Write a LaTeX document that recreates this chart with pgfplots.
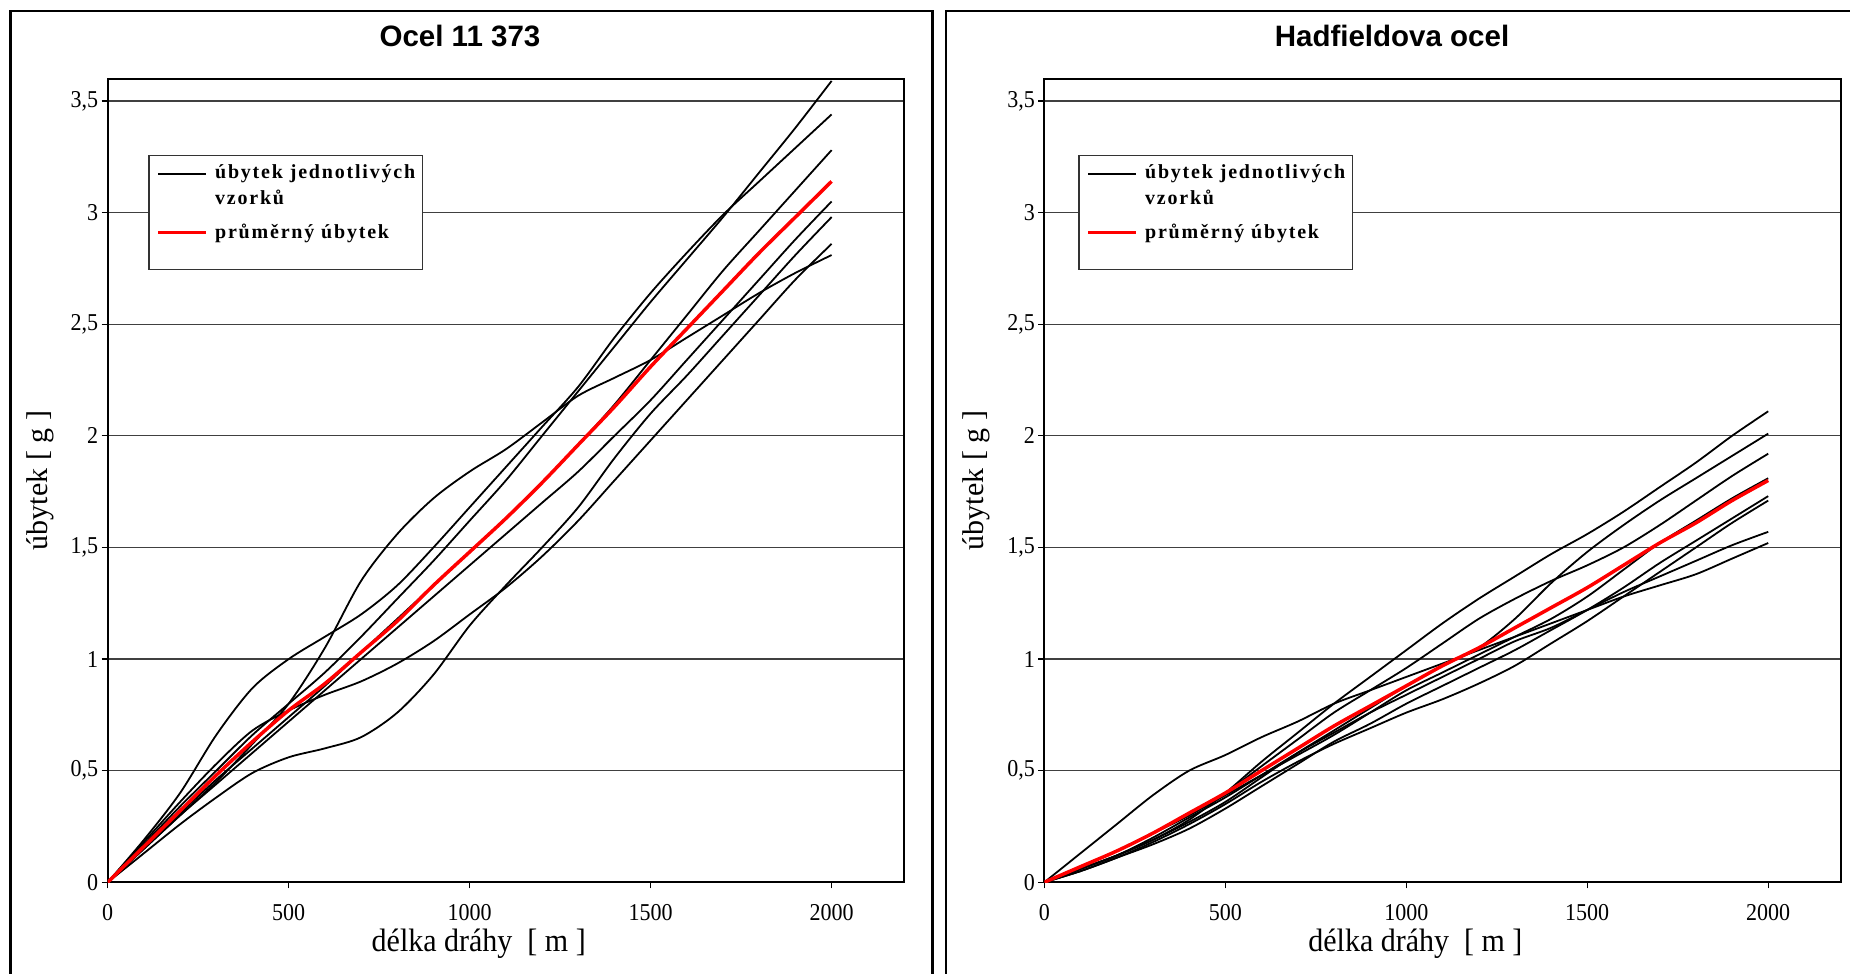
\documentclass[border=0pt]{standalone}
\usepackage{fontspec}
\setmainfont{Liberation Serif}
\newfontfamily\arialfont{Liberation Sans}
\newfontfamily\legfont{Liberation Serif}[LetterSpace=9]
\usepackage{pgfplots}
\usepackage{pgfplotstable}
\pgfplotsset{compat=1.18}

% left panel: Ocel 11 373, seven samples + average
\pgfplotstableread{
x    c1   c2   c3   c4   c5   c6   c7   avg
0    0    0    0    0    0    0    0    0
100  0.17 0.19 0.16 0.15 0.13 0.18 0.15 0.16
200  0.34 0.40 0.31 0.30 0.26 0.36 0.30 0.32
300  0.50 0.66 0.46 0.44 0.38 0.53 0.45 0.48
400  0.66 0.87 0.60 0.58 0.49 0.68 0.62 0.63
500  0.80 1.00 0.74 0.72 0.56 0.77 0.80 0.77
600  0.94 1.10 0.88 0.86 0.60 0.84 1.05 0.89
700  1.10 1.20 1.03 1.00 0.65 0.90 1.35 1.03
800  1.27 1.33 1.18 1.14 0.76 0.98 1.56 1.17
900  1.44 1.50 1.33 1.28 0.93 1.08 1.72 1.33
1000 1.62 1.68 1.48 1.42 1.15 1.20 1.84 1.48
1100 1.80 1.86 1.63 1.56 1.33 1.32 1.94 1.63
1200 2.00 2.04 1.79 1.70 1.50 1.46 2.06 1.79
1300 2.20 2.22 1.96 1.84 1.68 1.62 2.18 1.96
1400 2.40 2.44 2.14 2.00 1.90 1.80 2.26 2.13
1500 2.60 2.64 2.34 2.16 2.10 1.98 2.34 2.31
1600 2.79 2.82 2.54 2.34 2.27 2.16 2.44 2.48
1700 2.98 2.99 2.74 2.52 2.45 2.34 2.54 2.65
1800 3.18 3.14 2.92 2.70 2.63 2.52 2.64 2.82
1900 3.38 3.29 3.10 2.88 2.81 2.70 2.73 2.98
2000 3.59 3.44 3.28 3.05 2.98 2.86 2.81 3.14
}\leftdata

% right panel: Hadfieldova ocel, eight samples + average
\pgfplotstableread{
x    h1   h2   h3   h4   h5   h6   h7   h8   avg
0    0    0    0    0    0    0    0    0    0
100  0.06 0.06 0.07 0.07 0.05 0.05 0.06 0.13 0.07
200  0.12 0.12 0.14 0.14 0.11 0.11 0.12 0.26 0.14
300  0.19 0.19 0.22 0.22 0.17 0.18 0.20 0.39 0.22
400  0.28 0.27 0.30 0.30 0.24 0.26 0.29 0.50 0.31
500  0.40 0.36 0.40 0.39 0.33 0.35 0.38 0.57 0.40
600  0.54 0.47 0.52 0.48 0.43 0.45 0.48 0.65 0.50
700  0.67 0.58 0.64 0.57 0.53 0.54 0.58 0.72 0.60
800  0.80 0.68 0.76 0.66 0.63 0.62 0.67 0.80 0.70
900  0.92 0.78 0.86 0.76 0.71 0.69 0.76 0.86 0.79
1000 1.04 0.88 0.96 0.86 0.80 0.76 0.84 0.92 0.88
1100 1.16 0.97 1.07 0.94 0.88 0.82 0.92 0.98 0.97
1200 1.27 1.05 1.18 1.02 0.96 0.89 1.00 1.04 1.05
1300 1.37 1.18 1.27 1.10 1.04 0.97 1.08 1.10 1.14
1400 1.47 1.34 1.35 1.18 1.13 1.07 1.14 1.16 1.23
1500 1.56 1.48 1.42 1.28 1.22 1.17 1.22 1.22 1.32
1600 1.66 1.60 1.50 1.40 1.32 1.28 1.30 1.28 1.42
1700 1.77 1.71 1.60 1.52 1.43 1.39 1.37 1.33 1.52
1800 1.88 1.81 1.71 1.62 1.53 1.50 1.44 1.38 1.61
1900 2.00 1.91 1.82 1.72 1.63 1.61 1.51 1.45 1.71
2000 2.11 2.01 1.92 1.81 1.73 1.71 1.57 1.52 1.80
}\rightdata

\pgfplotsset{
  panel/.style={
    scale only axis, width=796.3pt, height=803.6pt,
    xmin=0, xmax=2200, ymin=0, ymax=3.6,
    xtick={0,500,1000,1500,2000},
    ytick={0,0.5,1,1.5,2,2.5,3,3.5},
    ymajorgrids, grid style={black!75, line width=1.2pt},
    axis line style={line width=2pt},
    tick style={black, line width=1.2pt},
    major tick length=6pt, tick align=outside, tick pos=left,
    scaled ticks=false,
    /pgf/number format/.cd, use comma, 1000 sep={}, assume math mode=true,
    /pgfplots/.cd,
    tick label style={font=\fontsize{22}{22}\selectfont},
    xticklabel={\scalebox{1}[1.1]{\pgfmathprintnumber{\tick}}},
    yticklabel={\scalebox{1}[1.1]{\pgfmathprintnumber{\tick}}},
    xticklabel style={inner sep=0pt, yshift=-16pt},
    xlabel style={font=\fontsize{30}{30}\selectfont, inner sep=0pt,
      at={(axis description cs:0.466,0)}, anchor=base, yshift=-69pt},
    ylabel style={font=\fontsize{30}{30}\selectfont, inner sep=0pt,
      at={(axis description cs:-0.0762,0.5)}, anchor=base},
    title style={font=\arialfont\bfseries\fontsize{29.5}{29.5}\selectfont, anchor=base},
    legend cell align=left,
    legend style={anchor=north west, draw=black!80, line width=1.2pt, fill=white,
      inner xsep=7.7pt, inner ysep=9pt, row sep=18.7pt, column sep=7pt,
      font=\legfont\bfseries\fontsize{20}{26}\selectfont,
      nodes={inner sep=0pt}, cells={align=left}},
  },
  sample/.style={black, line width=1.8pt, smooth, forget plot},
  mean/.style={red, line width=3.5pt, smooth, forget plot},
  sampleleg/.style={legend image code/.code={%
    \path (0pt,-11pt) (48pt,11pt); \draw[##1] (0pt,11pt) -- (48pt,11pt);}},
  meanleg/.style={legend image code/.code={\draw[##1] (0pt,0pt) -- (48pt,0pt);}},
}

\begin{document}
\begin{tikzpicture}
\useasboundingbox (0,0) rectangle (1850pt,974pt);
\clip (0,0) rectangle (1850pt,974pt);

% outer chart frames
\draw[line width=2.5pt] (10.3pt,-20pt) rectangle (932.3pt,963pt);
\draw[line width=2.5pt] (946pt,-20pt) rectangle (1880pt,963pt);

\begin{axis}[panel, at={(107.7pt,91.7pt)}, anchor=south west,
  title={Ocel 11 373},
  title style={at={(axis description cs:0.4424,1.0324)}},
  xlabel={\scalebox{1}[1.08]{délka dráhy\ \ [ m ]}}, ylabel={úbytek [ g ]},
  legend style={at={(axis description cs:0.051,0.9054)}}]
\addplot[sample] table[x=x, y=c1] {\leftdata};
\addplot[sample] table[x=x, y=c2] {\leftdata};
\addplot[sample] table[x=x, y=c3] {\leftdata};
\addplot[sample] table[x=x, y=c4] {\leftdata};
\addplot[sample] table[x=x, y=c5] {\leftdata};
\addplot[sample] table[x=x, y=c6] {\leftdata};
\addplot[sample] table[x=x, y=c7] {\leftdata};
\addplot[mean] table[x=x, y=avg] {\leftdata};
\addlegendimage{black, line width=1.8pt, sampleleg}
\addlegendentry{úbytek jednotlivých\\vzorků}
\addlegendimage{red, line width=3.5pt, meanleg}
\addlegendentry{průměrný úbytek}
\addlegendimage{empty legend}
\addlegendentry{}
\end{axis}

\begin{axis}[panel, at={(1044.3pt,91.7pt)}, anchor=south west,
  title={Hadfieldova ocel},
  title style={at={(axis description cs:0.4367,1.0324)}},
  xlabel={\scalebox{1}[1.08]{délka dráhy\ \ [ m ]}}, ylabel={úbytek [ g ]},
  legend style={at={(axis description cs:0.0427,0.9054)}}]
\addplot[sample] table[x=x, y=h1] {\rightdata};
\addplot[sample] table[x=x, y=h2] {\rightdata};
\addplot[sample] table[x=x, y=h3] {\rightdata};
\addplot[sample] table[x=x, y=h4] {\rightdata};
\addplot[sample] table[x=x, y=h5] {\rightdata};
\addplot[sample] table[x=x, y=h6] {\rightdata};
\addplot[sample] table[x=x, y=h7] {\rightdata};
\addplot[sample] table[x=x, y=h8] {\rightdata};
\addplot[mean] table[x=x, y=avg] {\rightdata};
\addlegendimage{black, line width=1.8pt, sampleleg}
\addlegendentry{úbytek jednotlivých\\vzorků}
\addlegendimage{red, line width=3.5pt, meanleg}
\addlegendentry{průměrný úbytek}
\addlegendimage{empty legend}
\addlegendentry{}
\end{axis}
\end{tikzpicture}
\end{document}
